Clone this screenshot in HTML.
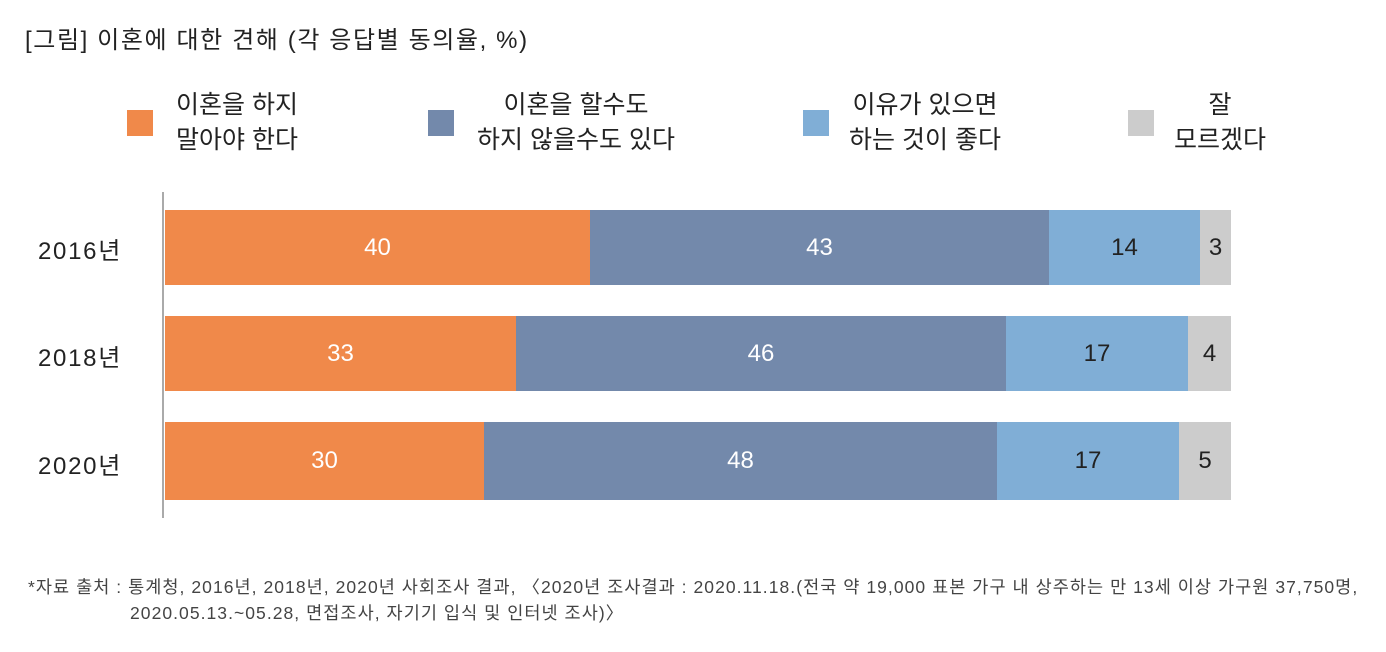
<!DOCTYPE html>
<html><head><meta charset="utf-8">
<style>
body{margin:0;width:1386px;height:652px;background:#fff;font-family:"Liberation Sans","Noto Sans CJK KR",sans-serif;color:#222;position:relative;overflow:hidden}
.a{position:absolute;white-space:nowrap}
.sq{position:absolute;width:26px;height:26px;top:110px}
.lg{position:absolute;top:88px;font-size:25px;line-height:35px;text-align:center;transform:translateX(-50%)}
.bar{position:absolute;height:75px;display:flex}
.bar div{height:100%;display:flex;align-items:center;justify-content:center;font-size:24px;color:#fff}
.yl{position:absolute;left:38px;font-size:24px;letter-spacing:1.7px}
</style></head><body>
<div class="a" style="left:25px;top:20px;font-size:24px;letter-spacing:1.6px">[그림] 이혼에 대한 견해 (각 응답별 동의율, %)</div>
<div class="sq" style="left:127px;background:#F0894A"></div>
<div class="lg" style="left:237px">이혼을 하지<br>말아야 한다</div>
<div class="sq" style="left:428px;background:#7389AB"></div>
<div class="lg" style="left:576px">이혼을 할수도<br>하지 않을수도 있다</div>
<div class="sq" style="left:803px;background:#80AED6"></div>
<div class="lg" style="left:925px">이유가 있으면<br>하는 것이 좋다</div>
<div class="sq" style="left:1128px;background:#CCCCCC"></div>
<div class="lg" style="left:1220px">잘<br>모르겠다</div>
<div class="a" style="left:162px;top:192px;width:1.5px;height:326px;background:#aaa"></div>
<div class="yl" style="top:231px">2016년</div>
<div class="yl" style="top:338px">2018년</div>
<div class="yl" style="top:446px">2020년</div>
<div class="bar" style="left:165px;top:210px">
<div style="width:425px;background:#F0894A">40</div><div style="width:459px;background:#7389AB">43</div><div style="width:151px;background:#80AED6;color:#222">14</div><div style="width:31px;background:#CCCCCC;color:#222">3</div></div>
<div class="bar" style="left:165px;top:316px">
<div style="width:351px;background:#F0894A">33</div><div style="width:490px;background:#7389AB">46</div><div style="width:182px;background:#80AED6;color:#222">17</div><div style="width:43px;background:#CCCCCC;color:#222">4</div></div>
<div class="bar" style="left:165px;top:422px;height:78px">
<div style="width:319px;background:#F0894A">30</div><div style="width:513px;background:#7389AB">48</div><div style="width:182px;background:#80AED6;color:#222">17</div><div style="width:52px;background:#CCCCCC;color:#222">5</div></div>
<div class="a" style="left:28px;top:574px;font-size:17.5px;letter-spacing:1.05px;color:#444">*자료 출처 : 통계청, 2016년, 2018년, 2020년 사회조사 결과, 〈2020년 조사결과 : 2020.11.18.(전국 약 19,000 표본 가구 내 상주하는 만 13세 이상 가구원 37,750명,</div>
<div class="a" style="left:130px;top:600px;font-size:17.5px;letter-spacing:1.05px;color:#444">2020.05.13.~05.28, 면접조사, 자기기 입식 및 인터넷 조사)〉</div>
</body></html>
